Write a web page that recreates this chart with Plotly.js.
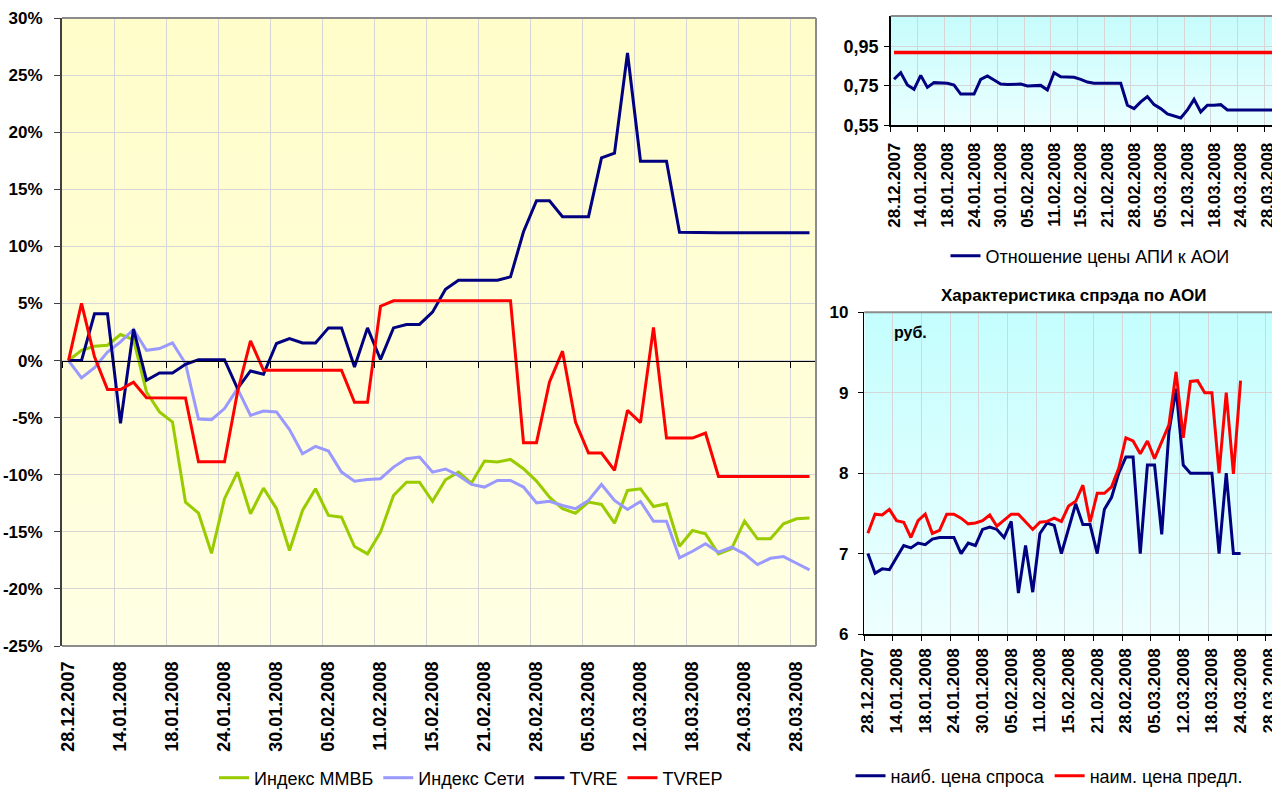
<!DOCTYPE html>
<html><head><meta charset="utf-8">
<script src="https://cdn.plot.ly/plotly-3.0.1.min.js"></script>
<style>html,body{margin:0;padding:0;overflow:hidden;background:#fff}#chart{width:1282px;height:789px}</style>
</head><body><div id="chart"></div>
<script>
// ---- data (category index 0..57, every 4th category labelled) ----
const tickLabels = ['28.12.2007','14.01.2008','18.01.2008','24.01.2008','30.01.2008','05.02.2008','11.02.2008','15.02.2008','21.02.2008','28.02.2008','05.03.2008','12.03.2008','18.03.2008','24.03.2008','28.03.2008'];
const categoryCount = 58;

const micex = [0, 0.9, 1.25, 1.34, 2.28, 1.84, -2.75, -4.5, -5.38, -12.4,
  -13.37, -16.88, -12.1, -9.77, -13.42, -11.17, -12.98, -16.64, -13.13, -11.23,
  -13.57, -13.72, -16.29, -16.93, -15.03, -11.82, -10.65, -10.65, -12.32, -10.44,
  -9.77, -10.73, -8.8, -8.89, -8.66, -9.47, -10.56, -11.96, -12.98, -13.37,
  -12.4, -12.6, -14.24, -11.38, -11.23, -12.78, -12.54, -16.26, -14.89, -15.18,
  -16.93, -16.49, -14.07, -15.61, -15.61, -14.3, -13.86, -13.8];
const setiIndex = [0, -1.52, -0.62, 0.75, 1.63, 2.72, 0.9, 1.05, 1.54, -0.26,
  -5.12, -5.18, -4.21, -2.46, -4.8, -4.42, -4.5, -6.05, -8.16, -7.52,
  -7.93, -9.77, -10.56, -10.41, -10.35, -9.33, -8.6, -8.45, -9.77, -9.5,
  -10.06, -10.85, -11.08, -10.5, -10.5, -11.08, -12.46, -12.32, -12.69, -12.98,
  -12.25, -10.85, -12.25, -13.04, -12.34, -14.07, -14.07, -17.28, -16.7, -16.05,
  -16.79, -16.35, -16.93, -17.87, -17.32, -17.17, -17.75, -18.33];
const tvre = [0, 0, 4.1, 4.1, -5.5, 2.75, -1.73, -1.09, -1.09, -0.33,
  0.08, 0.08, 0.08, -2.46, -0.91, -1.2, 1.49, 1.93, 1.54, 1.54,
  2.86, 2.86, -0.56, 2.86, 0.09, 2.86, 3.16, 3.16, 4.24, 6.25,
  7.04, 7.04, 7.04, 7.04, 7.33, 11.28, 14.0, 14.0, 12.6, 12.6,
  12.6, 17.75, 18.16, 26.93, 17.46, 17.46, 17.46, 11.23, 11.2, 11.2,
  11.2, 11.2, 11.2, 11.2, 11.2, 11.2, 11.2, 11.2];
const tvrep = [0, 5.0, 0.32, -2.54, -2.54, -1.9, -3.25, -3.25, -3.28, -3.28,
  -8.86, -8.86, -8.86, -2.75, 1.72, -0.85, -0.85, -0.85, -0.85, -0.85,
  -0.85, -0.85, -3.66, -3.66, 4.76, 5.23, 5.23, 5.23, 5.23, 5.23,
  5.23, 5.23, 5.23, 5.23, 5.23, -7.19, -7.19, -1.87, 0.82, -5.38,
  -8.1, -8.1, -9.62, -4.36, -5.44, 2.89, -6.79, -6.79, -6.79, -6.35,
  -10.15, -10.15, -10.15, -10.15, -10.15, -10.15, -10.15, -10.15];

const priceRatio = [0.784, 0.818, 0.755, 0.733, 0.804, 0.743, 0.767, 0.764, 0.764, 0.755,
  0.709, 0.709, 0.709, 0.784, 0.801, 0.780, 0.760, 0.757, 0.760, 0.760,
  0.750, 0.750, 0.753, 0.730, 0.818, 0.797, 0.794, 0.794, 0.784, 0.770,
  0.764, 0.764, 0.764, 0.764, 0.764, 0.652, 0.635, 0.669, 0.696, 0.655,
  0.635, 0.608, 0.597, 0.587, 0.628, 0.682, 0.618, 0.652, 0.652, 0.655,
  0.628, 0.628, 0.628, 0.628, 0.628, 0.628, 0.628, 0.628];
const ratioLevel = [0.92, 0.92, 0.92, 0.92, 0.92, 0.92, 0.92, 0.92, 0.92, 0.92,
  0.92, 0.92, 0.92, 0.92, 0.92, 0.92, 0.92, 0.92, 0.92, 0.92,
  0.92, 0.92, 0.92, 0.92, 0.92, 0.92, 0.92, 0.92, 0.92, 0.92,
  0.92, 0.92, 0.92, 0.92, 0.92, 0.92, 0.92, 0.92, 0.92, 0.92,
  0.92, 0.92, 0.92, 0.92, 0.92, 0.92, 0.92, 0.92, 0.92, 0.92,
  0.92, 0.92, 0.92, 0.92, 0.92, 0.92, 0.92, 0.92];

const bestBid = [7.0, 6.755, 6.81, 6.80, 6.95, 7.10, 7.07, 7.13, 7.11, 7.18,
  7.20, 7.20, 7.20, 7.00, 7.13, 7.10, 7.30, 7.33, 7.30, 7.20,
  7.40, 6.51, 7.10, 6.52, 7.25, 7.38, 7.35, 7.00, 7.31, 7.62,
  7.36, 7.36, 7.00, 7.55, 7.70, 8.00, 8.20, 8.20, 7.00, 8.10,
  8.10, 7.24, 8.51, 9.05, 8.10, 8.00, 8.00, 8.00, 8.00, 7.00,
  8.00, 7.00, 7.00];
const bestAsk = [7.253, 7.49, 7.48, 7.55, 7.41, 7.39, 7.20, 7.41, 7.49, 7.25,
  7.29, 7.49, 7.49, 7.44, 7.37, 7.38, 7.41, 7.48, 7.34, 7.41,
  7.49, 7.49, 7.39, 7.30, 7.39, 7.40, 7.44, 7.40, 7.59, 7.65,
  7.85, 7.39, 7.75, 7.75, 7.83, 8.06, 8.44, 8.40, 8.24, 8.40,
  8.18, 8.40, 8.60, 9.26, 8.44, 9.14, 9.15, 9.00, 9.00, 8.00,
  9.00, 7.99, 9.15];

const mainYTicks = [-25, -20, -15, -10, -5, 0, 5, 10, 15, 20, 25, 30];
const mainYLabels = ['-25%', '-20%', '-15%', '-10%', '-5%', '0%', '5%', '10%', '15%', '20%', '25%', '30%'];
const ratioYTicks = [0.55, 0.75, 0.95];
const ratioYLabels = ['0,55', '0,75', '0,95'];

// ---- helpers ----
const W = 1282, H = 789;
const idx = n => Array.from({length: n}, (_, i) => i);
const centers = tickLabels.map((_, k) => 4 * k);
const bounds = tickLabels.map((_, k) => 4 * k - 0.5);
const dx = (a, b) => [a / W, b / W];
const dy = (t, b) => [1 - b / H, 1 - t / H];
const FONT = 'Liberation Sans, Arial, sans-serif';
const GRID = '#D6D6D6';
const xr = [-0.5, categoryCount - 0.5];

function grad(top, bottom) {
  const svg = `<svg xmlns="http://www.w3.org/2000/svg" width="10" height="100" viewBox="0 0 10 100" preserveAspectRatio="none"><defs><linearGradient id="g" x1="0" y1="0" x2="0" y2="1"><stop offset="0" stop-color="${top}"/><stop offset="1" stop-color="${bottom}"/></linearGradient></defs><rect width="10" height="100" fill="url(#g)"/></svg>`;
  return 'data:image/svg+xml;charset=utf-8,' + encodeURIComponent(svg);
}
function bg(xd, yd, top, bottom) {
  return {source: grad(top, bottom), xref: 'paper', yref: 'paper', x: xd[0], y: yd[1],
    sizex: xd[1] - xd[0], sizey: yd[1] - yd[0], xanchor: 'left', yanchor: 'top', sizing: 'stretch', layer: 'below'};
}

const mainX = dx(62, 816), mainY = dy(18, 646);
const trX = dx(890.7, 1277.4), trY = dy(16, 125.3);
const brX = dx(864.3, 1280), brY = dy(312.3, 634);
const zeroPos = mainY[0] + (0 - (-25)) / 55 * (mainY[1] - mainY[0]);

const xi = idx(categoryCount);
const xs = idx(bestBid.length);
const line = (c, w) => ({color: c, width: w});

const traces = [
  {x: xi, y: micex, name: 'Индекс ММВБ', mode: 'lines', line: line('#99CC00', 3), xaxis: 'x', yaxis: 'y', legend: 'legend'},
  {x: xi, y: setiIndex, name: 'Индекс Сети', mode: 'lines', line: line('#9999FF', 3), xaxis: 'x', yaxis: 'y', legend: 'legend'},
  {x: xi, y: tvre, name: 'TVRE', mode: 'lines', line: line('#000080', 3), xaxis: 'x', yaxis: 'y', legend: 'legend'},
  {x: xi, y: tvrep, name: 'TVREP', mode: 'lines', line: line('#FF0000', 3), xaxis: 'x', yaxis: 'y', legend: 'legend'},
  {x: xi, y: priceRatio, name: 'Отношение цены АПИ к АОИ', mode: 'lines', line: line('#000080', 3), xaxis: 'x4', yaxis: 'y3', legend: 'legend2'},
  {x: xi, y: ratioLevel, name: 'level', mode: 'lines', line: line('#FF0000', 3.5), xaxis: 'x4', yaxis: 'y3', showlegend: false},
  {x: xs, y: bestBid, name: 'наиб. цена спроса', mode: 'lines', line: line('#000080', 3), xaxis: 'x6', yaxis: 'y4', legend: 'legend3'},
  {x: xs, y: bestAsk, name: 'наим. цена предл.', mode: 'lines', line: line('#FF0000', 3), xaxis: 'x6', yaxis: 'y4', legend: 'legend3'},
  // helper traces so overlay axes are built
  {x: [], y: [], xaxis: 'x2', yaxis: 'y', showlegend: false, hoverinfo: 'skip'},
  {x: [], y: [], xaxis: 'x3', yaxis: 'y', showlegend: false, hoverinfo: 'skip'},
  {x: [], y: [], xaxis: 'x5', yaxis: 'y3', showlegend: false, hoverinfo: 'skip'},
  {x: [], y: [], xaxis: 'x7', yaxis: 'y4', showlegend: false, hoverinfo: 'skip'}
];

const boldTick = s => ({family: FONT, size: s, color: '#000', weight: 'bold'});
const gridAxis = (domain, anchor, withTicks) => ({
  domain, anchor, range: xr, tickmode: 'array', tickvals: bounds, showticklabels: false,
  ticks: withTicks ? 'outside' : '', ticklen: 5, tickcolor: '#000', tickwidth: 1,
  showgrid: true, gridcolor: GRID, gridwidth: 1, zeroline: false,
  showline: withTicks, linecolor: '#000', linewidth: 1.5, fixedrange: true, automargin: false
});
const labelAxis = (over, anchor, size, standoff) => ({
  overlaying: over, anchor, side: 'bottom', range: xr, tickmode: 'array', tickvals: centers, ticktext: tickLabels,
  tickangle: -90, ticks: '', showgrid: false, zeroline: false, showline: false,
  tickfont: boldTick(size), ticklabelstandoff: standoff, fixedrange: true, automargin: false
});
const borderLine = (xref, yref, x0, y0, x1, y1) => ({type: 'line', xref, yref, x0, y0, x1, y1, line: {color: '#8C8C8C', width: 2}, layer: 'above'});

const layout = {
  width: W, height: H, margin: {l: 0, r: 0, t: 0, b: 0, autoexpand: false},
  paper_bgcolor: '#FFFFFF', plot_bgcolor: 'rgba(0,0,0,0)',
  font: {family: FONT, color: '#000'},
  showlegend: true,
  xaxis: gridAxis(mainX, 'y', false),
  yaxis: {domain: mainY, anchor: 'x', range: [-25, 30], tickmode: 'array', tickvals: mainYTicks, ticktext: mainYLabels,
    showgrid: true, gridcolor: GRID, zeroline: false, showline: true, linecolor: '#404040', linewidth: 2,
    ticks: 'outside', ticklen: 6, tickcolor: '#404040', tickfont: boldTick(17), ticklabelstandoff: 8, fixedrange: true, automargin: false},
  xaxis2: {overlaying: 'x', anchor: 'free', position: zeroPos, range: xr, tickmode: 'array', tickvals: bounds,
    showticklabels: false, ticks: 'outside', ticklen: 6, tickcolor: '#000', showline: true, linecolor: '#000', linewidth: 1,
    showgrid: false, zeroline: false, fixedrange: true, automargin: false},
  xaxis3: labelAxis('x', 'y', 18, 11),
  xaxis4: gridAxis(trX, 'y3', true),
  xaxis5: labelAxis('x4', 'y3', 17, 13),
  yaxis3: {domain: trY, anchor: 'x4', range: [0.55, 1.106], tickmode: 'array', tickvals: ratioYTicks, ticktext: ratioYLabels,
    showgrid: true, gridcolor: GRID, zeroline: false, showline: true, linecolor: '#000', linewidth: 1.5,
    ticks: 'outside', ticklen: 5, tickcolor: '#000', tickfont: boldTick(18), ticklabelstandoff: 2, fixedrange: true, automargin: false},
  xaxis6: gridAxis(brX, 'y4', true),
  xaxis7: labelAxis('x6', 'y4', 17, 10),
  yaxis4: {domain: brY, anchor: 'x6', range: [6, 10], dtick: 1, tick0: 6,
    showgrid: true, gridcolor: GRID, zeroline: false, showline: true, linecolor: '#000', linewidth: 1.5,
    ticks: 'outside', ticklen: 5, tickcolor: '#000', tickfont: boldTick(17), ticklabelstandoff: 6, fixedrange: true, automargin: false},
  legend: {orientation: 'h', x: 471 / W, xanchor: 'center', y: 1 - 778 / H, yanchor: 'middle',
    font: {family: FONT, size: 18, color: '#000'}, bgcolor: 'rgba(0,0,0,0)', itemwidth: 30},
  legend2: {orientation: 'h', x: 1090 / W, xanchor: 'center', y: 1 - 256 / H, yanchor: 'middle',
    font: {family: FONT, size: 18, color: '#000'}, bgcolor: 'rgba(0,0,0,0)', itemwidth: 30},
  legend3: {orientation: 'h', x: 1049 / W, xanchor: 'center', y: 1 - 776 / H, yanchor: 'middle',
    font: {family: FONT, size: 18, color: '#000'}, bgcolor: 'rgba(0,0,0,0)', itemwidth: 30},
  images: [
    bg(mainX, mainY, '#FFFDC9', '#FFFFE4'),
    bg(trX, trY, '#C6FCFC', '#EAFFFF'),
    bg(brX, brY, '#C4FEFE', '#EEFFFF')
  ],
  shapes: [
    borderLine('x domain', 'y domain', 0, 1, 1, 1),
    borderLine('x domain', 'y domain', 1, 0, 1, 1),
    borderLine('x domain', 'y domain', 0, 0, 1, 0),
    borderLine('x4 domain', 'y3 domain', 0, 1, 1, 1),
    borderLine('x6 domain', 'y4 domain', 0, 1, 1, 1)
  ],
  annotations: [
    {text: 'Характеристика спрэда по АОИ', xref: 'paper', yref: 'paper', x: 1074 / W, y: 1 - 296 / H,
      xanchor: 'center', yanchor: 'middle', showarrow: false, font: {family: FONT, size: 17, weight: 'bold', color: '#000'}},
    {text: 'руб.', xref: 'paper', yref: 'paper', x: 910 / W, y: 1 - 333 / H,
      xanchor: 'center', yanchor: 'middle', showarrow: false, font: {family: FONT, size: 16, weight: 'bold', color: '#000'}}
  ]
};

Plotly.newPlot('chart', traces, layout, {displayModeBar: false, staticPlot: true});
</script>
</body></html>
